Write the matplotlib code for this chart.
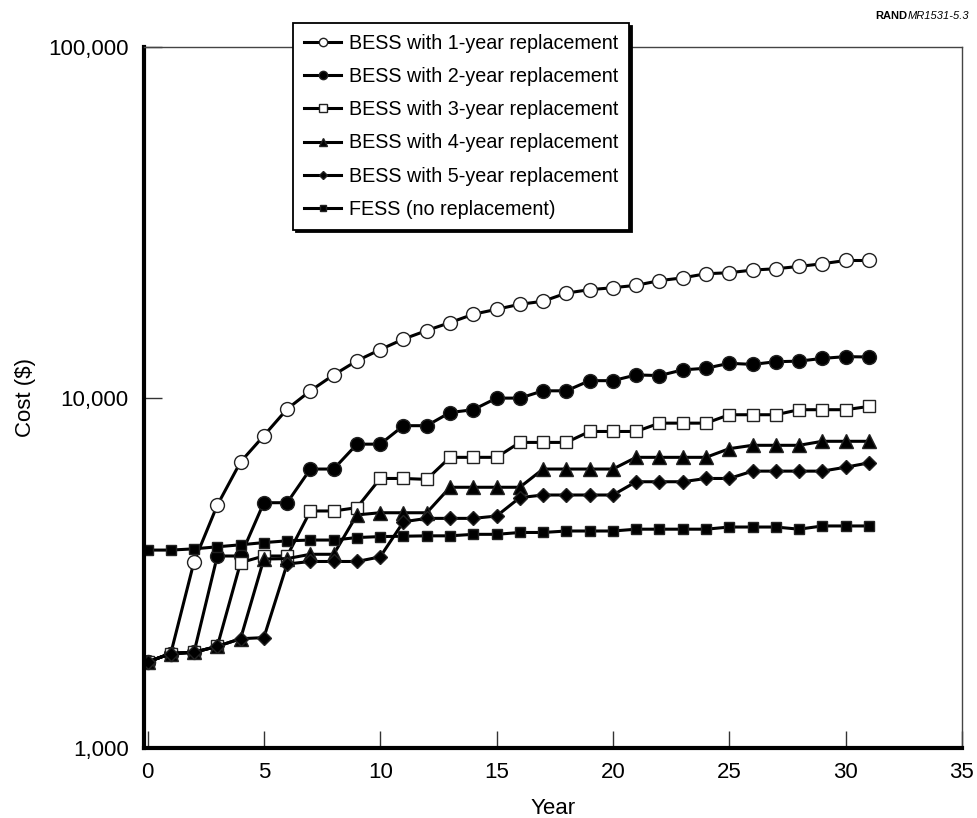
import matplotlib.pyplot as plt
from matplotlib.ticker import FixedLocator, NullLocator, FuncFormatter

# === Data ===
years = list(range(32))

bess_1yr = [1760, 1860, 3400, 4930, 6550, 7780, 9270, 10450, 11600, 12730,
            13700, 14680, 15530, 16360, 17280, 17850, 18450, 18820, 19860, 20310,
            20570, 20900, 21550, 21950, 22550, 22700, 23100, 23300, 23660, 24080,
            24600, 24600]
bess_2yr = [1760, 1860, 1875, 3530, 3530, 5010, 5010, 6250, 6250, 7360,
            7360, 8310, 8310, 9060, 9230, 9960, 9960, 10450, 10450, 11170,
            11170, 11600, 11550, 11990, 12120, 12520, 12430, 12650, 12700, 12930,
            13080, 13050]
bess_3yr = [1760, 1860, 1875, 1950, 3380, 3530, 3530, 4745, 4745, 4850,
            5875, 5875, 5840, 6750, 6750, 6750, 7445, 7445, 7445, 8000,
            8000, 8000, 8450, 8450, 8450, 8930, 8930, 8930, 9230, 9230,
            9230, 9430]
bess_4yr = [1760, 1860, 1875, 1950, 2050, 3460, 3470, 3570, 3570, 4625,
            4690, 4690, 4690, 5545, 5545, 5545, 5545, 6250, 6250, 6250,
            6250, 6750, 6750, 6750, 6750, 7145, 7305, 7305, 7305, 7500,
            7500, 7500]
bess_5yr = [1760, 1860, 1875, 1950, 2050, 2065, 3350, 3405, 3405, 3405,
            3510, 4420, 4520, 4520, 4520, 4590, 5180, 5270, 5270, 5270,
            5270, 5750, 5750, 5750, 5875, 5875, 6165, 6165, 6165, 6165,
            6325, 6510]
fess = [3670, 3670, 3700, 3750, 3800, 3855, 3900, 3920, 3920, 3985,
        4010, 4020, 4030, 4030, 4070, 4070, 4120, 4120, 4160, 4160,
        4160, 4210, 4210, 4210, 4210, 4270, 4270, 4270, 4210, 4300,
        4300, 4300]

labels = ["BESS with 1-year replacement", "BESS with 2-year replacement",
          "BESS with 3-year replacement", "BESS with 4-year replacement",
          "BESS with 5-year replacement", "FESS (no replacement)"]

# === Plot ===
plt.rcParams["font.family"] = ["Liberation Sans", "DejaVu Sans"]
fig = plt.figure(figsize=(9.77, 8.18), dpi=100)
ax = fig.add_axes([0.1474, 0.0856, 0.8372, 0.8569])

styles = [
    (bess_1yr, "o", "white", 10),
    (bess_2yr, "o", "black", 10),
    (bess_3yr, "s", "white", 8.5),
    (bess_4yr, "^", "black", 9.5),
    (bess_5yr, "D", "black", 7),
    (fess, "s", "black", 7.5),
]
for (vals, mk, fc, ms), lab in zip(styles, labels):
    ax.plot(years, vals, color="black", lw=2.2, marker=mk, markersize=ms,
            markerfacecolor=fc, markeredgecolor="#222222", markeredgewidth=1.0,
            label=lab)

ax.set_yscale("log")
ax.set_xlim(-0.15, 35)
ax.set_ylim(1000, 100000)
ax.xaxis.set_major_locator(FixedLocator([0, 5, 10, 15, 20, 25, 30, 35]))
ax.yaxis.set_major_locator(FixedLocator([1000, 10000, 100000]))
ax.yaxis.set_minor_locator(NullLocator())
ax.yaxis.set_major_formatter(FuncFormatter(lambda v, p: f"{int(v):,}"))
ax.tick_params(direction="in", labelsize=16, width=1.0, color="#333333")
ax.tick_params(axis="x", length=12, pad=10)
ax.tick_params(axis="y", length=13, pad=11)

for side in ["left", "bottom"]:
    ax.spines[side].set_linewidth(3)
for side in ["top", "right"]:
    ax.spines[side].set_linewidth(1)
    ax.spines[side].set_color("#444444")

ax.set_xlabel("Year", fontsize=16, labelpad=11)
ax.set_ylabel("Cost ($)", fontsize=16, labelpad=9)

leg = ax.legend(loc="upper left", bbox_to_anchor=(0.2999, 0.9719),
                bbox_transform=fig.transFigure, fontsize=14.2, markerscale=0.6,
                handlelength=1.9, handletextpad=0.4, labelspacing=0.72,
                borderpad=0.55, borderaxespad=0, fancybox=False, framealpha=1,
                edgecolor="black", shadow={"color": "black", "alpha": 1})
leg.get_frame().set_linewidth(1.3)
leg.set_zorder(10)

fig.text(0.929, 0.981, "RAND", fontsize=8, fontweight="bold", ha="right", va="center")
fig.text(0.929, 0.981, "MR1531-5.3", fontsize=8, style="italic", ha="left", va="center")

plt.savefig("out.png", dpi=100)
